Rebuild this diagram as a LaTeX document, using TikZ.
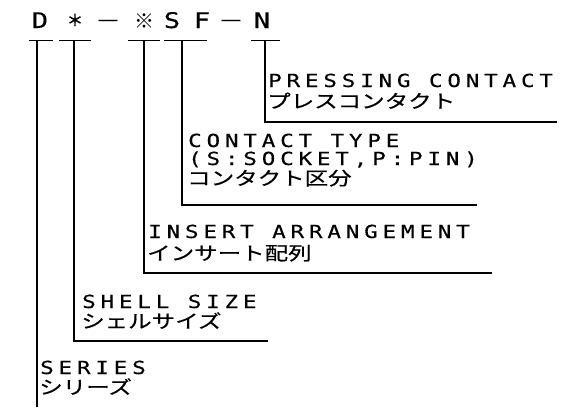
\documentclass[tikz,border=0pt]{standalone}
\usepackage{fontspec}
\newfontfamily\latinf[LetterSpace=27,FakeStretch=1.25,FakeBold=0.4]{DejaVu Sans Mono}
\newfontfamily\toplf[FakeStretch=1.25,FakeBold=0.4]{DejaVu Sans Mono}
\newfontfamily\cjk[FakeStretch=1.27,FakeBold=0.6]{Noto Sans CJK JP}
\newfontfamily\cjktop{Noto Sans CJK JP}
\newfontfamily\cjkast[FakeBold=2.5]{Noto Sans CJK JP}
\newfontfamily\cjkdash[FakeStretch=1.3]{Noto Sans CJK JP}
\begin{document}
\begin{tikzpicture}[x=1pt,y=-1pt,
  lbl/.style={anchor=base west,inner sep=0pt,text height=0.73em,text depth=0.05em,font=\latinf\fontsize{18}{19}\selectfont},
  jlbl/.style={anchor=base west,inner sep=0pt,text height=0.8em,text depth=0.08em,font=\cjk\fontsize{18.5}{20}\selectfont},
  topch/.style={anchor=base,inner sep=0pt,font=\toplf\fontsize{21.5}{23}\selectfont},
  topcj/.style={anchor=base,inner sep=0pt,font=\cjktop\fontsize{20}{22}\selectfont},
  bar/.style={line width=1pt},
  lead/.style={line width=1.3pt}]
\useasboundingbox (0,0) rectangle (573,407);
% top code
\node[topch] (cD) at (40,28) {D};
\node[topcj,font=\cjkast\fontsize{16}{20}\selectfont] (cAst) at (75,26) {＊};
\node[topcj,font=\cjkdash\fontsize{20}{22}\selectfont] (cDash1) at (108,28) {－};
\node[topcj] (cRef) at (144,28) {※};
\node[topch] (cS) at (172,28) {S};
\node[topch] (cF) at (202,28) {F};
\node[topcj,font=\cjkdash\fontsize{20}{22}\selectfont] (cDash2) at (231,28) {－};
\node[topch] (cN) at (262,28) {N};
% bars
\coordinate (bD1) at (29,40); \coordinate (bD2) at (53,40);
\coordinate (bA1) at (59,40); \coordinate (bA2) at (91,40);
\coordinate (bR1) at (128,40); \coordinate (bR2) at (160,40);
\coordinate (bS1) at (164,40); \coordinate (bS2) at (207,40);
\coordinate (bN1) at (251,40); \coordinate (bN2) at (280,40);
\draw[bar] (bD1) -- (bD2);
\draw[bar] (bA1) -- (bA2);
\draw[bar] (bR1) -- (bR2);
\draw[bar] (bS1) -- (bS2);
\draw[bar] (bN1) -- (bN2);
% leader start points
\coordinate (tD) at (37,40); \coordinate (tA) at (74,40);
\coordinate (tR) at (144,40); \coordinate (tS) at (182,40);
\coordinate (tN) at (265,40);
% corners and ends
\coordinate (kN) at (265,122); \coordinate (eN) at (557,122);
\coordinate (kS) at (182,205); \coordinate (eS) at (477,205);
\coordinate (kR) at (144,273); \coordinate (eR) at (492,273);
\coordinate (kA) at (74,341); \coordinate (eA) at (268,341);
\coordinate (kD) at (37,407);
\draw[lead] (tN) -- (kN) -- (eN);
\draw[lead] (tS) -- (kS) -- (eS);
\draw[lead] (tR) -- (kR) -- (eR);
\draw[lead] (tA) -- (kA) -- (eA);
\draw[lead] (tD) -- (kD);
% labels
\node[lbl] (pN1) at (268,87) {PRESSING CONTACT};
\node[jlbl] (pN2) at (267,108) {プレスコンタクト};
\node[lbl] (pS1) at (188,147) {CONTACT TYPE};
\node[lbl] (pS2) at (188,165) {(S:SOCKET,P:PIN)};
\node[jlbl] (pS3) at (187,185) {コンタクト区分};
\node[lbl] (pR1) at (148,238) {INSERT ARRANGEMENT};
\node[jlbl] (pR2) at (147,260) {インサート配列};
\node[lbl] (pA1) at (82,308) {SHELL SIZE};
\node[jlbl] (pA2) at (81,328) {シェルサイズ};
\node[lbl] (pD1) at (40,374) {SERIES};
\node[jlbl] (pD2) at (39,394) {シリーズ};
\end{tikzpicture}
\end{document}
